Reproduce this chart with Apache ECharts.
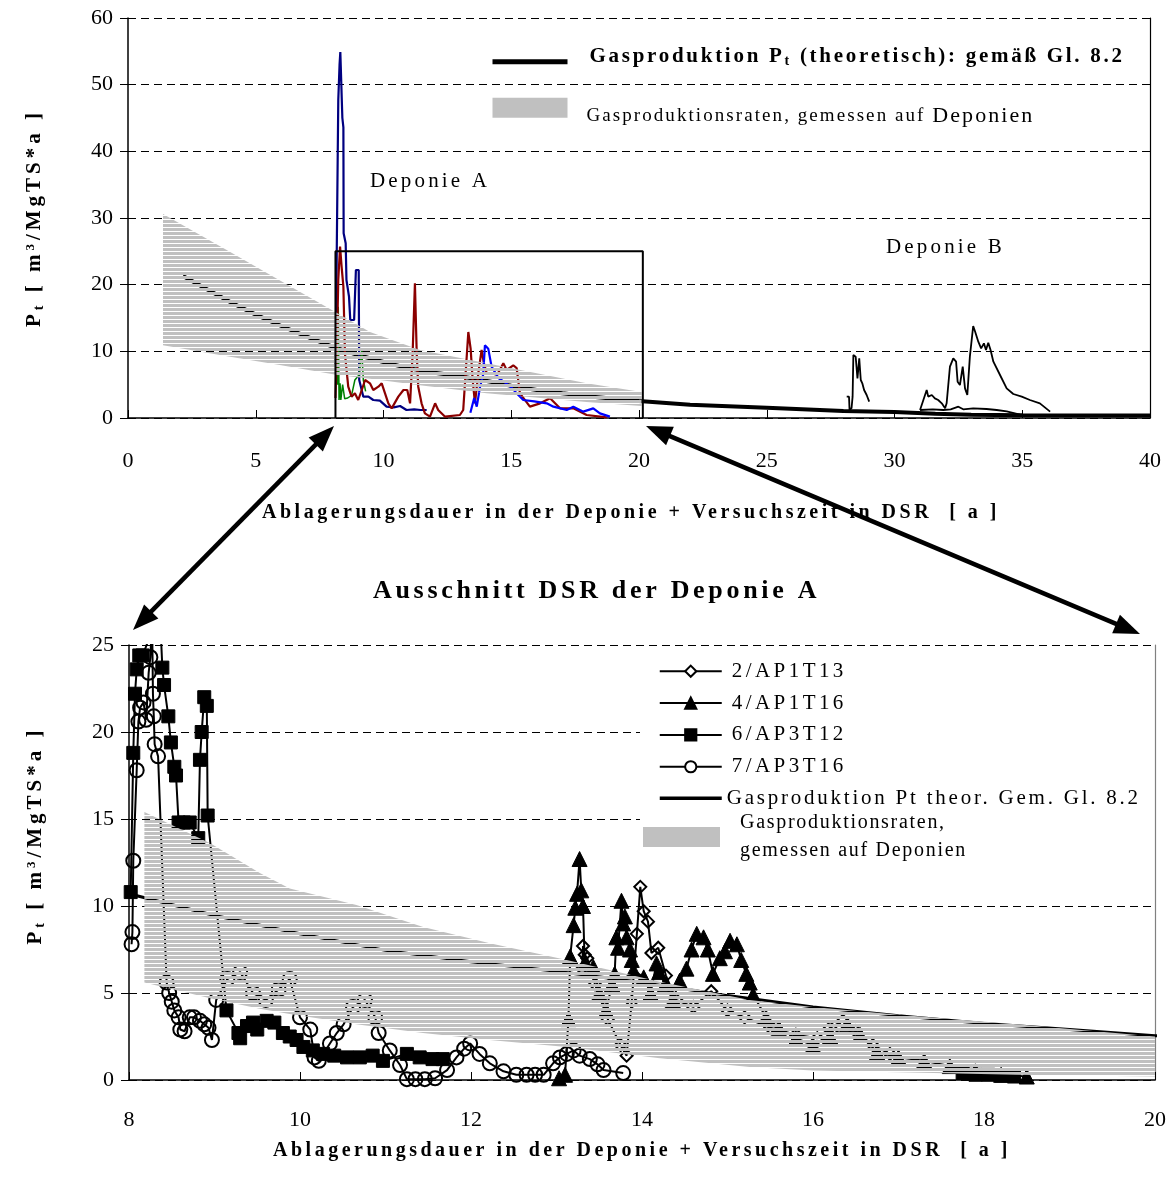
<!DOCTYPE html>
<html><head><meta charset="utf-8">
<script src="https://cdn.jsdelivr.net/npm/echarts@6/dist/echarts.min.js"></script>
<style>html,body{margin:0;padding:0;background:#fff}#c{width:1174px;height:1195px}</style>
</head><body><div id="c"></div>
<script>
// ================= DATA =================
// Theoretical gas production Pt (Gl. 8.2), shared by both panels
const theoX = [2.15, 3, 4, 5, 6, 7, 8, 9, 10, 11, 12, 13, 14, 15, 16, 17, 18, 19, 20, 22, 25, 28, 30, 31.6, 33, 35, 40];
const theoY = [21.3, 19.5, 17.4, 15.5, 13.8, 12.2, 10.7, 9.45, 8.4, 7.45, 6.8, 6.25, 5.6, 4.85, 4.2, 3.7, 3.25, 2.9, 2.55, 2.0, 1.55, 1.05, 0.9, 0.65, 0.5, 0.42, 0.38];

// Measured rates on landfills (band) - top panel
const topBandX = [1.37, 4, 6, 8.2, 9.47, 11.43, 14.04, 17.95, 20.1];
const topBandUpper = [30.6, 24.9, 20.5, 15.7, 12.9, 10.2, 8.2, 5.2, 3.9];
const topBandLower = [10.9, 9.2, 7.9, 6.45, 5.9, 4.9, 3.7, 2.4, 1.8];

// Band - bottom panel
const botBandX = [8.18, 8.95, 9.53, 9.88, 10.66, 11.44, 12.22, 13.12, 14.21, 15.26, 16.0, 17.0, 18.38, 20.0];
const botBandUpper = [15.4, 13.6, 11.9, 11.0, 10.06, 8.8, 7.86, 6.9, 5.65, 4.6, 4.2, 3.75, 3.2, 2.5];
const botBandLower = [5.6, 4.7, 4.1, 3.8, 3.2, 2.7, 2.3, 1.9, 1.25, 0.75, 0.55, 0.45, 0.3, 0.2];

// Detail box (Ausschnitt) in the top panel
const boxX = [8.12, 8.12, 20.15, 20.15];
const boxY = [0, 25, 25, 0];

// Deponie A curves in the top panel
const navyX = [8.13, 8.17, 8.23, 8.28, 8.31, 8.34, 8.39, 8.43, 8.44, 8.52, 8.55, 8.65, 8.70, 8.85, 8.88, 8.92, 9.03, 9.05, 9.21, 9.41, 9.6, 9.86, 10.12, 10.4, 10.65, 10.9, 11.2, 11.45, 11.69];
const navyY = [8.0, 24.7, 47.7, 53.0, 54.9, 55.0, 45.0, 43.6, 27.7, 26.2, 20.7, 18.2, 14.7, 14.7, 14.4, 22.2, 22.2, 5.7, 3.2, 3.2, 2.7, 2.6, 1.7, 1.6, 1.8, 1.2, 1.3, 1.2, 1.2];
const redX = [8.12, 8.17, 8.23, 8.30, 8.36, 8.43, 8.49, 8.62, 8.75, 8.88, 9.01, 9.15, 9.28, 9.47, 9.60, 9.80, 9.93, 10.06, 10.19, 10.32, 10.58, 10.78, 10.93, 11.04, 11.14, 11.23, 11.30, 11.36, 11.49, 11.62, 11.82, 12.02, 12.14, 12.41, 12.99, 13.12, 13.32, 13.41, 13.49, 13.58, 13.71, 13.84, 13.93, 14.04, 14.23, 14.45, 14.69, 14.82, 15.08, 15.21, 15.34, 15.73, 16.13, 16.52, 16.91, 17.43, 17.95, 18.74];
const redY = [3.0, 9.7, 20.7, 25.7, 22.7, 19.7, 9.7, 4.7, 3.2, 3.7, 2.7, 4.2, 5.7, 5.2, 4.2, 4.7, 5.2, 3.7, 2.2, 1.45, 3.2, 4.2, 4.2, 2.2, 9.7, 20.2, 9.7, 4.7, 2.2, 0.7, 0.2, 2.2, 1.2, 0.2, 0.45, 1.2, 12.9, 10.4, 5.7, 2.2, 6.7, 10.2, 8.2, 6.7, 6.7, 6.5, 8.2, 7.2, 7.9, 7.5, 3.7, 1.7, 2.2, 2.95, 1.45, 1.45, 0.45, 0.1];
const blueX = [13.40, 13.55, 13.65, 13.78, 13.90, 13.97, 14.10, 14.23, 14.5, 14.8, 15.0, 15.21, 15.47, 15.9, 16.39, 16.65, 17.17, 17.43, 17.82, 18.21, 18.47, 18.86];
const blueY = [0.8, 3.0, 1.7, 4.7, 6.5, 10.9, 10.4, 7.7, 6.0, 5.2, 4.6, 3.7, 2.7, 2.5, 2.2, 1.7, 1.2, 1.7, 0.95, 1.45, 0.7, 0.2];
const greenX = [8.20, 8.23, 8.26, 8.30, 8.33, 8.40, 8.48, 8.60, 8.75, 8.88, 9.05, 9.15, 9.21, 9.30];
const greenY = [5.0, 16.7, 2.7, 5.2, 2.7, 5.0, 2.9, 3.0, 3.4, 5.7, 6.5, 10.2, 5.7, 4.0];

// Deponie B curves in the top panel
const b1X = [28.13, 28.22, 28.24, 28.32, 28.36, 28.39, 28.48, 28.55, 28.62, 28.68, 28.74, 28.81, 28.91, 29.01];
const b1Y = [3.2, 3.2, 1.2, 1.5, 3.2, 9.45, 9.2, 5.95, 8.95, 5.7, 5.2, 4.2, 3.45, 2.45];
const b2X = [31.0, 31.13, 31.26, 31.32, 31.46, 31.58, 31.71, 31.85, 31.98, 32.04, 32.17, 32.3, 32.41, 32.47, 32.56, 32.67, 32.76, 32.85, 32.95, 33.08, 33.16, 33.28, 33.39, 33.5, 33.58, 33.67, 33.76, 33.87, 34.13, 34.39, 34.65, 34.98, 35.3, 35.69, 36.09];
const b2Y = [1.2, 2.7, 4.2, 3.2, 3.45, 2.95, 2.7, 2.2, 1.45, 2.2, 7.7, 8.95, 8.45, 5.45, 4.95, 7.7, 4.45, 3.45, 9.2, 13.8, 12.9, 11.45, 10.45, 11.2, 10.2, 11.3, 10.2, 8.45, 6.45, 4.45, 3.6, 3.2, 2.7, 2.2, 0.95];
const b3X = [31.0, 31.5, 31.91, 32.2, 32.5, 32.69, 33.08, 33.6, 34.0, 34.39, 34.91];
const b3Y = [1.2, 1.3, 1.2, 1.3, 1.7, 1.3, 1.45, 1.35, 1.2, 1.0, 0.5];

// Bottom panel (DSR detail) series
const s2X = [13.30, 13.31, 13.33, 13.36, 13.45, 13.60, 13.75, 13.82, 13.88, 13.94, 13.98, 14.02, 14.07, 14.11, 14.19, 14.28, 14.40, 14.60, 14.81, 15.00, 15.20, 15.50, 15.80, 16.05, 16.20, 16.35, 16.50, 16.70, 16.90];
const s2Y = [6.4, 7.7, 7.2, 7.0, 5.5, 3.5, 2.0, 1.4, 4.5, 8.4, 11.1, 9.7, 9.1, 7.3, 7.6, 6.0, 4.6, 4.2, 5.1, 4.0, 3.6, 3.0, 2.6, 2.4, 3.0, 3.4, 2.8, 2.0, 1.5];
const s4X = [13.03, 13.10, 13.14, 13.16, 13.20, 13.22, 13.24, 13.27, 13.29, 13.31, 13.33, 13.43, 13.50, 13.58, 13.65, 13.68, 13.70, 13.72, 13.76, 13.78, 13.80, 13.82, 13.86, 13.88, 13.90, 14.02, 14.10, 14.17, 14.20, 14.27, 14.36, 14.44, 14.52, 14.58, 14.64, 14.72, 14.77, 14.83, 14.91, 14.97, 15.03, 15.11, 15.16, 15.22, 15.26, 15.30, 15.45, 15.60, 15.80, 16.00, 16.20, 16.40, 16.55, 16.75, 17.00, 17.30, 17.60, 17.90, 18.20, 18.50];
const s4Y = [0.1, 0.3, 3.5, 7.1, 8.9, 9.9, 10.7, 12.7, 10.9, 10.0, 6.7, 6.5, 5.0, 4.0, 5.5, 6.1, 8.2, 7.6, 10.3, 9.0, 9.4, 8.2, 7.5, 6.9, 6.3, 5.9, 5.0, 6.7, 6.2, 5.5, 4.6, 5.7, 6.4, 7.5, 8.4, 8.2, 7.5, 6.1, 7.0, 7.4, 8.0, 7.8, 6.9, 6.1, 5.6, 4.9, 3.6, 3.0, 2.4, 2.0, 2.5, 3.2, 2.6, 1.6, 1.3, 1.1, 0.8, 0.5, 0.3, 0.2];
const s6X = [8.02, 8.05, 8.07, 8.09, 8.12, 8.16, 8.36, 8.39, 8.41, 8.46, 8.49, 8.53, 8.55, 8.58, 8.64, 8.71, 8.81, 8.83, 8.85, 8.88, 8.91, 8.92, 9.14, 9.28, 9.30, 9.38, 9.45, 9.50, 9.61, 9.70, 9.80, 9.88, 9.96, 10.04, 10.15, 10.27, 10.40, 10.55, 10.70, 10.85, 10.97, 11.25, 11.40, 11.55, 11.67, 11.70, 17.75, 17.90, 18.05, 18.20, 18.35];
const s6Y = [10.8, 18.8, 22.2, 23.6, 24.4, 24.4, 27.0, 23.7, 22.7, 20.9, 19.4, 18.0, 17.5, 14.8, 14.8, 14.8, 13.9, 18.4, 20.0, 22.0, 21.5, 15.2, 4.0, 2.7, 2.4, 3.1, 3.3, 2.9, 3.4, 3.3, 2.7, 2.5, 2.3, 1.9, 1.7, 1.5, 1.4, 1.3, 1.3, 1.4, 1.1, 1.5, 1.3, 1.2, 1.2, null, 0.4, 0.3, 0.3, 0.25, 0.2];
const s7X = [8.03, 8.04, 8.05, 8.09, 8.11, 8.13, 8.17, 8.20, 8.23, 8.25, 8.27, 8.28, 8.29, 8.30, 8.34, 8.44, 8.47, 8.50, 8.53, 8.58, 8.60, 8.65, 8.71, 8.76, 8.83, 8.88, 8.93, 8.97, 9.02, 9.15, 9.30, 9.45, 9.60, 9.75, 9.88, 10.00, 10.12, 10.17, 10.22, 10.35, 10.43, 10.51, 10.62, 10.76, 10.88, 10.92, 11.05, 11.17, 11.25, 11.35, 11.46, 11.58, 11.72, 11.83, 11.92, 11.99, 12.10, 12.22, 12.38, 12.53, 12.65, 12.75, 12.85, 12.96, 13.04, 13.12, 13.20, 13.27, 13.39, 13.48, 13.55, 13.78];
const s7Y = [7.8, 8.5, 12.6, 17.8, 20.6, 21.4, 21.7, 20.7, 23.4, 24.3, 26.5, 22.2, 20.9, 19.3, 18.6, 5.6, 5.0, 4.5, 4.0, 3.6, 2.9, 2.8, 3.6, 3.6, 3.4, 3.2, 3.0, 2.3, 4.6, 5.8, 6.2, 5.0, 4.6, 5.2, 5.8, 3.6, 2.9, 1.3, 1.1, 2.1, 2.7, 3.2, 4.2, 4.6, 3.6, 2.7, 1.7, 0.86, 0.05, 0.05, 0.05, 0.1, 0.57, 1.3, 1.8, 2.1, 1.5, 0.96, 0.5, 0.3, 0.3, 0.3, 0.3, 0.96, 1.3, 1.5, 1.7, 1.4, 1.2, 0.9, 0.57, 0.4];

// Names / texts
const NAME_S2 = '2/AP1T13', NAME_S4 = '4/AP1T16', NAME_S6 = '6/AP3T12', NAME_S7 = '7/AP3T16';
const NAME_THEO_TOP = 'Gasproduktion Pt (theoretisch): gemäß Gl. 8.2';
const NAME_THEO_BOT = 'Gasproduktion Pt theor. Gem. Gl. 8.2';
const NAME_BAND = 'Gasproduktionsraten, gemessen auf Deponien';
const X_NAME = 'Ablagerungsdauer in der Deponie + Versuchszeit in DSR  [ a ]';
const TITLE = 'Ausschnitt DSR der Deponie A';

// ================= letter spacing helper (style only) =================
const spacing = {};
(function () {
  const P = CanvasRenderingContext2D.prototype;
  if (!('letterSpacing' in P)) return;
  const re = /ls[A-Z][A-Za-z0-9]*/;
  const wrap = fn => function (...a) {
    const m = re.exec(this.font);
    const want = (m && spacing[m[0]] != null) ? spacing[m[0]].toFixed(2) + 'px' : '0px';
    if (this.letterSpacing !== want) { this.letterSpacing = want; const f = this.font; this.font = f; }
    return fn.apply(this, a);
  };
  P.fillText = wrap(P.fillText); P.strokeText = wrap(P.strokeText); P.measureText = wrap(P.measureText);
})();
const mctx = document.createElement('canvas').getContext('2d');
function fit(key, parts, target) {
  let w = 0, n = 0;
  for (const [t, f] of parts) { mctx.font = f + ' "Liberation Serif"'; w += mctx.measureText(t).width; n += t.length; }
  spacing[key] = Math.max(0, (target - w) / n);
}
const fam = k => 'Liberation Serif, ' + k;
fit('lsTitle', [[TITLE, 'bold 26px']], 447);
fit('lsXName', [[X_NAME, 'bold 20px']], 738);
fit('lsYName', [['P', 'bold 21px'], ['t', 'bold 14px'], [' [ m', 'bold 21px'], ['3', 'bold 13px'], ['/MgTS*a ]', 'bold 21px']], 218);
fit('lsDep', [['Deponie A', 'normal 21px']], 120);
fit('lsLeg', [['2/AP1T13', 'normal 21px']], 115);
fit('lsTheoB', [[NAME_THEO_BOT, 'normal 21px']], 414);
fit('lsTheoT', [['Gasproduktion P', 'bold 21px'], ['t', 'bold 14px'], [' (theoretisch): gemäß Gl. 8.2', 'bold 21px']], 535);
fit('lsBandT', [['Gasproduktionsraten, gemessen auf ', 'normal 19px'], ['Deponien', 'normal 22px']], 448);
fit('lsBandB', [['gemessen auf Deponien', 'normal 20px']], 227);

// ================= hatch pattern for band =================
const hc = document.createElement('canvas');
hc.width = 8; hc.height = 4;
const hctx = hc.getContext('2d');
hctx.fillStyle = '#C0C0C0'; hctx.fillRect(0, 0, 8, 3);
const hatch = { image: hc, repeat: 'repeat' };

// ================= helpers =================
const zip = (xs, ys) => xs.map((x, i) => [x, ys[i] == null ? '-' : ys[i]]);
const FONT = 'Liberation Serif';

function lineSeries(name, xs, ys, xi, yi, color, width, extra) {
  return Object.assign({
    type: 'line', name, xAxisIndex: xi, yAxisIndex: yi, data: zip(xs, ys),
    symbol: 'none', showSymbol: false, silent: true, animation: false, z: 2,
    lineStyle: { color, width }, itemStyle: { color }, clip: true
  }, extra || {});
}
function bandSeries(xi, yi, bx, up, lo) {
  const pts = bx.map((x, i) => [x, up[i]]).concat(bx.map((x, i) => [x, lo[i]]).reverse());
  return {
    type: 'custom', name: NAME_BAND, xAxisIndex: xi, yAxisIndex: yi, z: 5, silent: true,
    data: pts, encode: { x: 0, y: 1 }, itemStyle: { color: '#C0C0C0' },
    renderItem: (params, api) => {
      if (params.dataIndex !== 0) return null;
      return { type: 'polygon', shape: { points: pts.map(p => api.coord(p)) }, style: { fill: hatch } };
    }
  };
}
function markerSeries(name, xs, ys, symbol, size, filled) {
  return {
    type: 'line', name, xAxisIndex: 1, yAxisIndex: 2, data: zip(xs, ys), z: 2,
    symbol, symbolSize: size, showSymbol: true, silent: true, animation: false, clip: true, connectNulls: false,
    lineStyle: { color: '#000', width: 2 },
    itemStyle: filled ? { color: '#000', borderColor: '#000', borderWidth: 1 } : { color: 'rgba(255,255,255,0)', borderColor: '#000', borderWidth: 2 }
  };
}
function arrow(x1, y1, x2, y2) {
  const L = 26, W = 10, dx = x2 - x1, dy = y2 - y1, len = Math.hypot(dx, dy), ux = dx / len, uy = dy / len, nx = -uy, ny = ux;
  const head = (tx, ty, sx, sy) => ({
    type: 'polygon', silent: true,
    shape: { points: [[tx, ty], [tx - sx * L + nx * W, ty - sy * L + ny * W], [tx - sx * L - nx * W, ty - sy * L - ny * W]] },
    style: { fill: '#000' }
  });
  return [
    { type: 'line', silent: true, shape: { x1: x1 + ux * L * 0.8, y1: y1 + uy * L * 0.8, x2: x2 - ux * L * 0.8, y2: y2 - uy * L * 0.8 }, style: { stroke: '#000', lineWidth: 4.5 } },
    head(x2, y2, ux, uy), head(x1, y1, -ux, -uy)
  ];
}

const axisNameRich = {
  b: { fontSize: 21, fontWeight: 'bold', fontFamily: fam('lsYName'), lineHeight: 26, color: '#000' },
  sub: { fontSize: 14, fontWeight: 'bold', fontFamily: fam('lsYName'), lineHeight: 14, verticalAlign: 'bottom', color: '#000' },
  sup: { fontSize: 13, fontWeight: 'bold', fontFamily: fam('lsYName'), lineHeight: 13, verticalAlign: 'top', color: '#000' }
};
const Y_NAME = '{b|P}{sub|t}{b| [ m}{sup|3}{b|/MgTS*a ]}';

function xAxis(gi, min, max, interval, margin, gap, namePad) {
  return {
    gridIndex: gi, type: 'value', min, max, interval,
    axisLine: { show: true, onZero: false, lineStyle: { color: '#000', width: 1.5 } },
    axisTick: { show: true, inside: true, length: 8, lineStyle: { color: '#000', width: 1 } },
    axisLabel: { margin, fontSize: 22, color: '#000', fontFamily: FONT },
    splitLine: { show: false },
    name: X_NAME, nameLocation: 'middle', nameGap: gap,
    nameTextStyle: { fontSize: 20, fontWeight: 'bold', color: '#000', fontFamily: fam('lsXName'), padding: namePad }
  };
}
function yAxis(gi, max, interval, gap, namePad) {
  return {
    gridIndex: gi, type: 'value', min: 0, max, interval,
    axisLine: { show: true, onZero: false, lineStyle: { color: '#000', width: 1.5 } },
    axisTick: { show: true, inside: false, length: 8, lineStyle: { color: '#000', width: 1 } },
    axisLabel: { margin: 15, fontSize: 22, color: '#000', fontFamily: FONT },
    splitLine: { show: true, lineStyle: { color: '#000', width: 1, type: [8, 5] } },
    name: Y_NAME, nameLocation: 'middle', nameGap: gap, nameRotate: 90,
    nameTextStyle: { rich: axisNameRich, padding: namePad }
  };
}
function borderAxis(gi, max, color) {
  return {
    gridIndex: gi, type: 'value', min: 0, max, position: 'right',
    axisLine: { show: true, onZero: false, lineStyle: { color, width: 1.2 } },
    axisTick: { show: false }, axisLabel: { show: false }, splitLine: { show: false }
  };
}

const option = {
  animation: false,
  backgroundColor: '#fff',
  title: {
    text: TITLE, left: 373, top: 576, padding: 0,
    textStyle: { fontSize: 26, fontWeight: 'bold', color: '#000', fontFamily: fam('lsTitle') }
  },
  grid: [
    { left: 128, top: 18, width: 1022, height: 400 },
    { left: 129, top: 645, width: 1026, height: 435 }
  ],
  xAxis: [xAxis(0, 0, 40, 5, 32, 83, [0, 16, 0, 0]), xAxis(1, 8, 20, 2, 29, 59, [0, 0, 0, 0])],
  yAxis: [yAxis(0, 60, 10, 80, [0, 0, 0, 0]), borderAxis(0, 60, '#000'), yAxis(1, 25, 5, 80, [0, 0, 0, 54]), borderAxis(1, 25, '#808080')],
  legend: [
    {
      left: 490, top: 45, padding: 0, orient: 'vertical', itemWidth: 75, itemHeight: 20, itemGap: 28, selectedMode: false,
      data: [
        { name: NAME_THEO_TOP, lineStyle: { width: 5, color: '#000' }, itemStyle: { opacity: 0 }, textStyle: { padding: [0, 0, 10, 17] } },
        { name: NAME_BAND, icon: 'rect', itemStyle: { color: '#C0C0C0', borderWidth: 0 }, textStyle: { padding: [16, 0, 0, 14] } }
      ],
      formatter: n => n === NAME_THEO_TOP
        ? '{b|Gasproduktion P}{s|t}{b| (theoretisch): gemäß Gl. 8.2}'
        : '{n|Gasproduktionsraten, gemessen auf }{d|Deponien}',
      textStyle: {
        color: '#000',
        rich: {
          b: { fontSize: 21, fontWeight: 'bold', fontFamily: fam('lsTheoT'), lineHeight: 26, color: '#000' },
          s: { fontSize: 14, fontWeight: 'bold', fontFamily: fam('lsTheoT'), lineHeight: 14, verticalAlign: 'bottom', color: '#000' },
          n: { fontSize: 19, fontFamily: fam('lsBandT'), lineHeight: 26, color: '#000' },
          d: { fontSize: 22, fontFamily: fam('lsBandT'), lineHeight: 26, color: '#000' }
        }
      }
    },
    {
      left: 658, top: 659, padding: 0, orient: 'vertical', itemWidth: 62, itemHeight: 14, itemGap: 7.4, selectedMode: false,
      data: [
        { name: NAME_S2, itemStyle: { color: '#fff' }, textStyle: { padding: [0, 0, 0, 5] } },
        { name: NAME_S4, textStyle: { padding: [0, 0, 0, 5] } },
        { name: NAME_S6, textStyle: { padding: [0, 0, 0, 5] } },
        { name: NAME_S7, itemStyle: { color: '#fff' }, textStyle: { padding: [0, 0, 0, 5] } },
        { name: NAME_THEO_BOT, lineStyle: { width: 3.5, color: '#000' }, itemStyle: { opacity: 0 }, textStyle: { fontFamily: fam('lsTheoB') } }
      ],
      textStyle: { fontSize: 21, color: '#000', fontFamily: fam('lsLeg') }
    },
    {
      left: 643, top: 799, padding: 0, orient: 'vertical', itemWidth: 77, itemHeight: 20, selectedMode: false,
      data: [{ name: NAME_BAND, icon: 'rect', itemStyle: { color: '#C0C0C0', borderWidth: 0 } }],
      formatter: () => 'Gasproduktionsraten,\ngemessen auf Deponien',
      textStyle: { fontSize: 20, lineHeight: 28, color: '#000', fontFamily: fam('lsBandB'), padding: [20, 0, 0, 15] }
    }
  ],
  graphic: [
    // white legend area of the detail panel (hides grid lines behind the legend)
    { type: 'rect', silent: true, z: 1, shape: { x: 640, y: 652, width: 512, height: 226 }, style: { fill: '#fff' } },
    { type: 'text', silent: true, style: { text: 'Deponie A', x: 370, y: 181, verticalAlign: 'middle', fontSize: 21, fontFamily: fam('lsDep'), fill: '#000' } },
    { type: 'text', silent: true, style: { text: 'Deponie B', x: 886, y: 247, verticalAlign: 'middle', fontSize: 21, fontFamily: fam('lsDep'), fill: '#000' } },
    ...arrow(334, 426, 133, 630),
    ...arrow(646, 426, 1140, 634)
  ],
  series: [
    // ---- top panel ----
    lineSeries(NAME_THEO_TOP, theoX, theoY, 0, 0, '#000', 4),
    lineSeries('Deponie A – Kurve 1', navyX, navyY, 0, 0, '#000080', 2.2),
    lineSeries('Deponie A – Kurve 2', greenX, greenY, 0, 0, '#008000', 1.5),
    lineSeries('Deponie A – Kurve 3', redX, redY, 0, 0, '#8B0000', 2.2),
    lineSeries('Deponie A – Kurve 4', blueX, blueY, 0, 0, '#0000FF', 2.2),
    lineSeries('Deponie B – Kurve 1', b1X, b1Y, 0, 0, '#000', 1.8),
    lineSeries('Deponie B – Kurve 2', b2X, b2Y, 0, 0, '#000', 1.8),
    lineSeries('Deponie B – Kurve 3', b3X, b3Y, 0, 0, '#000', 1.8),
    bandSeries(0, 0, topBandX, topBandUpper, topBandLower),
    lineSeries('Ausschnitt', boxX, boxY, 0, 0, '#000', 2, { z: 6 }),
    // ---- bottom panel ----
    markerSeries(NAME_S7, s7X, s7Y, 'circle', 14, false),
    markerSeries(NAME_S6, s6X, s6Y, 'rect', 13, true),
    markerSeries(NAME_S4, s4X, s4Y, 'triangle', 15, true),
    markerSeries(NAME_S2, s2X, s2Y, 'diamond', 12, false),
    lineSeries(NAME_THEO_BOT, theoX, theoY, 1, 2, '#000', 3, { z: 3 }),
    bandSeries(1, 2, botBandX, botBandUpper, botBandLower)
  ]
};

const chart = echarts.init(document.getElementById('c'), null, { renderer: 'canvas' });
chart.setOption(option);
</script>
</body></html>
